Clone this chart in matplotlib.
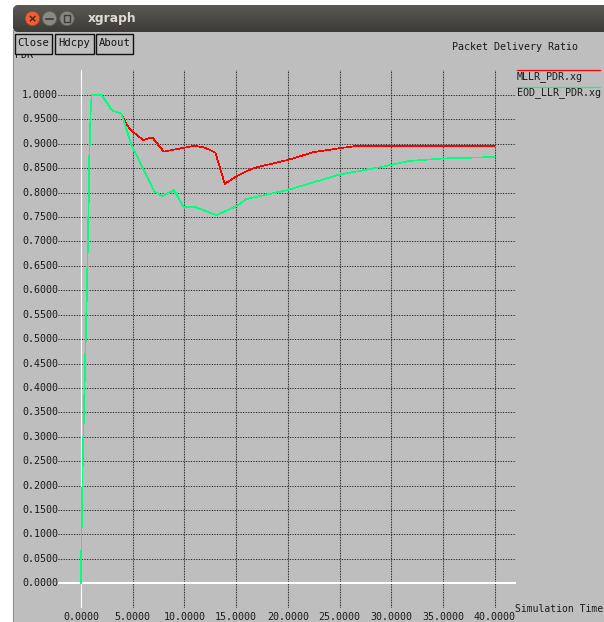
import matplotlib
matplotlib.use("Agg")
import matplotlib.pyplot as plt
import numpy as np
from matplotlib.patches import FancyBboxPatch, Rectangle, Circle
from matplotlib.transforms import blended_transform_factory

# ---- data -------------------------------------------------------------
mllr_time = [0, 0.05, 0.1, 0.16, 0.26, 0.36, 0.48, 0.55, 0.61, 0.68, 0.74, 0.8,
             0.94, 1.03, 2.0, 3.0, 3.9, 4.4, 5.0, 6.0, 6.9, 8.0, 9.7, 11.0, 12.0,
             13.0, 13.9, 15.0, 16.2, 17.0, 19.2, 20.0, 22.5, 25.0, 26.8, 30.0,
             35.0, 40.0]
mllr_pdr = [0, 0.10, 0.15, 0.24, 0.33, 0.42, 0.52, 0.58, 0.64, 0.72, 0.78, 0.87,
            0.97, 1.0, 1.0, 0.968, 0.962, 0.939, 0.925, 0.908, 0.913, 0.884, 0.891,
            0.896, 0.892, 0.882, 0.818, 0.833, 0.846, 0.852, 0.863, 0.867, 0.883,
            0.891, 0.896, 0.896, 0.896, 0.896]

eod_time = [0, 0.05, 0.1, 0.16, 0.26, 0.36, 0.48, 0.55, 0.61, 0.68, 0.74, 0.8,
            0.94, 1.03, 2.0, 3.0, 3.9, 4.9, 7.1, 7.9, 9.0, 9.9, 11.0, 13.1, 15.1,
            16.0, 19.9, 25.0, 28.9, 31.8, 35.0, 38.3, 40.0]
eod_pdr = [0, 0.10, 0.15, 0.24, 0.33, 0.42, 0.52, 0.58, 0.64, 0.72, 0.78, 0.87,
           0.97, 1.0, 1.0, 0.968, 0.962, 0.897, 0.802, 0.793, 0.805, 0.771, 0.771,
           0.754, 0.773, 0.787, 0.805, 0.837, 0.852, 0.865, 0.870, 0.872, 0.873]

series_names = ["MLLR_PDR.xg", "EOD_LLR_PDR.xg"]
series_colors = ["#ff0000", "#00ff7f"]

x_ticks = [0, 5, 10, 15, 20, 25, 30, 35, 40]
y_ticks = [round(0.05 * i, 2) for i in range(21)]

W, H = 604, 622
fig = plt.figure(figsize=(W / 100, H / 100), dpi=100)
fig.patch.set_facecolor("white")

MONO = "DejaVu Sans Mono"
FS = 7.2
BG = "#bebebe"
INK = "#1a1a1a"

# ---- window chrome (pixel coordinates) --------------------------------
bg = fig.add_axes([0, 0, 1, 1])
bg.axis("off")
bg.set_zorder(0)

bg.add_patch(Rectangle((13, 30), W, H, facecolor=BG, edgecolor="#8e8e8e", lw=0.8))

bar = FancyBboxPatch((13, 5), W + 20, 27, boxstyle="round,pad=0,rounding_size=6",
                     facecolor="#3c3b37", edgecolor="none")
bg.add_patch(bar)
grad = np.linspace(0, 1, 64)[:, None]
im = bg.imshow(grad, extent=[13, W + 20, 32, 5],
               cmap=matplotlib.colors.LinearSegmentedColormap.from_list(
                   "tb", ["#5a5954", "#3c3b37"]), aspect="auto", zorder=1)
im.set_clip_path(bar)
bg.set_xlim(0, W)
bg.set_ylim(H, 0)

bg.add_patch(Circle((32.5, 18.5), 7.2, facecolor="#e9613a", edgecolor="#b23e1c", lw=0.6, zorder=3))
bg.text(32.5, 18.8, "×", color="#4a1a08", fontsize=8, ha="center", va="center", zorder=4,
        fontweight="bold")
bg.add_patch(Circle((49.5, 18.5), 7.2, facecolor="#8a8883", edgecolor="#5e5c58", lw=0.6, zorder=3))
bg.plot([46, 53], [18.5, 18.5], color="#3c3b37", lw=1.2, zorder=4)
bg.add_patch(Circle((67, 18.5), 7.2, facecolor="#8a8883", edgecolor="#5e5c58", lw=0.6, zorder=3))
bg.add_patch(Rectangle((63.8, 15.3), 6.4, 6.4, facecolor="none", edgecolor="#3c3b37", lw=1.0, zorder=4))
bg.text(88, 18.5, "xgraph", color="#dfdbd2", fontsize=8.8, fontweight="bold",
        ha="left", va="center", zorder=4, family="DejaVu Sans")

# y-axis unit label, partly under the buttons
bg.text(15, 57.6, "PDR", family=MONO, fontsize=FS, color=INK, ha="left",
        va="baseline", zorder=2)

for (x0, x1), label in zip([(14.7, 52.3), (55, 94), (96, 132.7)], ["Close", "Hdcpy", "About"]):
    bg.add_patch(Rectangle((x0, 33.5), x1 - x0, 20.5, facecolor=BG, edgecolor="#111111",
                           lw=1.0, zorder=5))
    bg.text((x0 + x1) / 2, 43.5, label, family=MONO, fontsize=7.6, color="#111111",
            ha="center", va="center", zorder=6)

bg.text(451.5, 47, "Packet Delivery Ratio", family=MONO, fontsize=FS, color=INK,
        ha="left", va="center")

# legend
for (ly, ty), name, col in zip([(70.3, 77), (87.3, 93)], series_names, series_colors):
    bg.plot([517, 600], [ly, ly], color=col, lw=0.9)
    bg.text(516.5, ty, name, family=MONO, fontsize=FS, color=INK, ha="left", va="center")

bg.text(515, 609, "Simulation Time", family=MONO, fontsize=7.0, color=INK,
        ha="left", va="center")

# ---- data axes --------------------------------------------------------
px_left, px_right, px_top, px_bot = 58, 516, 70, 608
x0_px, x_scale = 81.0, 10.34
y0_px, y_scale = 583.3, 488.3

ax = fig.add_axes([px_left / W, (H - px_bot) / H, (px_right - px_left) / W,
                   (px_bot - px_top) / H])
ax.set_zorder(1)
ax.patch.set_visible(False)
ax.set_xlim((px_left - x0_px) / x_scale, (px_right - x0_px) / x_scale)
ax.set_ylim((y0_px - px_bot) / y_scale, (y0_px - px_top) / y_scale)
for s in ax.spines.values():
    s.set_visible(False)
ax.set_xticks([])
ax.set_yticks([])

# dotted grid
for yv in y_ticks:
    if yv == 0:
        continue
    ax.axhline(yv, color="#a4a4a4", lw=0.5, zorder=1)
    ax.axhline(yv, color="#222222", lw=0.72, ls=(0, (1, 1.6)), zorder=1.1)
for xv in x_ticks:
    if xv == 0:
        continue
    ax.axvline(xv, color="#9a9a9a", lw=0.8, zorder=1)
    ax.axvline(xv, color="#222222", lw=0.72, ls=(0, (1, 1.6)), zorder=1.1)

# zero axes in white
ax.axhline(0, color="white", lw=1.5, zorder=1.2)
ax.axvline(0, color="white", lw=0.8, zorder=1.2)

ax.plot(mllr_time, mllr_pdr, color=series_colors[0], lw=0.5, zorder=3, antialiased=False)
ax.plot(eod_time, eod_pdr, color=series_colors[1], lw=0.5, zorder=3.1, antialiased=False)

# tick labels
ytr = blended_transform_factory(fig.transFigure, ax.transData)
for yv in y_ticks:
    ax.text(px_left / W, yv, f"{yv:.4f}", transform=ytr, family=MONO, fontsize=FS,
            color=INK, ha="right", va="center", clip_on=False)
xtr = blended_transform_factory(ax.transData, fig.transFigure)
for xv in x_ticks:
    ax.text(xv, (H - 617.5) / H, f"{xv:.4f}", transform=xtr, family=MONO, fontsize=FS,
            color=INK, ha="center", va="center", clip_on=False)

fig.savefig("out.png", dpi=100, facecolor="white")
